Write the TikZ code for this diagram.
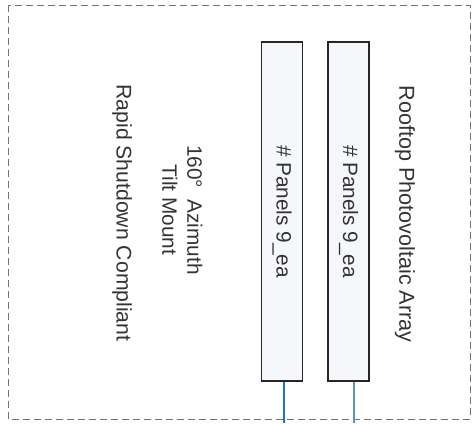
\documentclass[tikz,border=0pt]{standalone}
\usepackage{fontspec}
\setmainfont{Liberation Sans}
\definecolor{panelfill}{HTML}{F6F7FA}
\definecolor{wireA}{HTML}{1F6FCF}
\definecolor{wireB}{HTML}{5A93BE}
\begin{document}
\begin{tikzpicture}[x=0.5pt,y=-0.5pt,
    panel/.style={draw=black!85,line width=0.6pt,fill=panelfill,
      minimum width=20.5pt,minimum height=169.5pt,inner sep=0pt},
    vtext/.style={rotate=-90,font=\fontsize{10.4}{12.5}\selectfont,
      text=black!80,align=center}]
  \useasboundingbox (0,0) rectangle (474,423);
  \draw[black!55,line width=0.45pt,dash pattern=on 3.5pt off 2pt]
    (8,5) rectangle (470,419);
  % array strings
  \node[panel] (p1) at (282,211.5) {};
  \node[panel] (p2) at (348.5,211.5) {};
  \node[vtext] (lbl1) at (p1) {\# Panels 9\_ea};
  \node[vtext] (lbl2) at (p2) {\# Panels 9\_ea};
  \node[vtext,font=\fontsize{10.8}{13}\selectfont] (array) at (405,214)
    {Rooftop Photovoltaic Array};
  \node[vtext,text depth=0pt] (mount) at (182.5,210)
    {160°\ \ Azimuth\\Tilt Mount};
  \node[vtext,font=\fontsize{10.6}{13}\selectfont] (rsd) at (122,213)
    {Rapid Shutdown Compliant};
  % wires leaving the roof
  \coordinate (w1) at (284,423);
  \coordinate (w2) at (354,423);
  \draw[wireA,line width=0.75pt] (w1 |- p1.south) -- (w1);
  \draw[wireB,line width=0.6pt] (w2 |- p2.south) -- (w2);
\end{tikzpicture}
\end{document}
